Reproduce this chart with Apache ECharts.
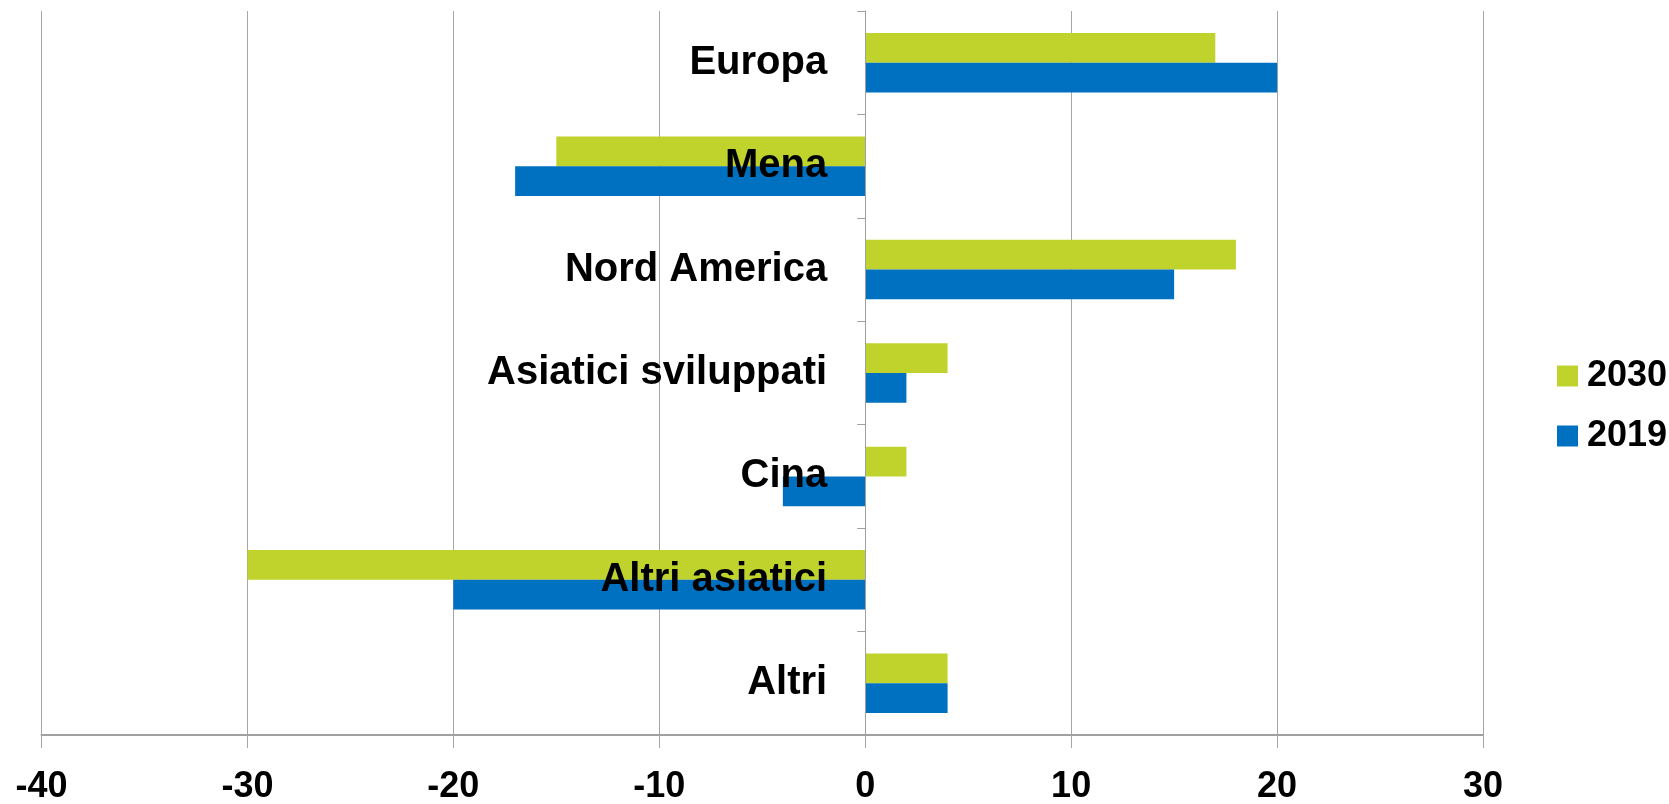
<!DOCTYPE html>
<html>
<head>
<meta charset="utf-8">
<script src="https://cdn.jsdelivr.net/npm/echarts@6/dist/echarts.min.js"></script>
<style>
html,body{margin:0;padding:0;background:#fff;}
#chart{width:1669px;height:804px;}
</style>
</head>
<body>
<div id="chart"></div>
<script>
const categories = ['Europa', 'Mena', 'Nord America', 'Asiatici sviluppati', 'Cina', 'Altri asiatici', 'Altri'];
const values2030 = [17, -15, 18, 4, 2, -30, 4];
const values2019 = [20, -17, 15, 2, -4, -20, 4];
const seriesNames = ['2030', '2019'];

const numFont = "'Liberation Sans', Arial, sans-serif";
const catFont = "'Liberation Sans', Arial, sans-serif";

const W = 1669, gridLeft = 41.5, gridRight = 186;
const xMin = -40, xMax = 30;
const zeroOffset = -(W - gridLeft - gridRight) * (0 - xMin) / (xMax - xMin);

const chart = echarts.init(document.getElementById('chart'));
chart.setOption({
  animation: false,
  grid: { left: gridLeft, right: gridRight, top: 11, bottom: 69, containLabel: false, outerBoundsMode: 'none' },
  legend: {
    orient: 'vertical',
    left: 1552,
    top: 353,
    itemWidth: 21,
    itemHeight: 21,
    itemGap: 24,
    icon: 'rect',
    data: seriesNames,
    textStyle: { fontFamily: numFont, fontWeight: 'bold', fontSize: 36, color: '#000', padding: [0, 0, 0, 4] }
  },
  xAxis: {
    type: 'value',
    min: xMin,
    max: xMax,
    interval: 10,
    axisLine: { show: true, onZero: false, lineStyle: { color: '#A0A0A0', width: 2 } },
    axisTick: { show: true, length: 13, lineStyle: { color: '#A6A6A6', width: 1 } },
    splitLine: { show: true, lineStyle: { color: '#A6A6A6', width: 1 } },
    axisLabel: { margin: 34, fontFamily: numFont, fontWeight: 'bold', fontSize: 36, color: '#000' }
  },
  yAxis: {
    type: 'category',
    inverse: true,
    data: categories,
    z: 10,
    offset: zeroOffset,
    axisLine: { show: true, onZero: false, lineStyle: { color: '#A0A0A0', width: 1 } },
    axisTick: { show: true, length: 8, lineStyle: { color: '#A0A0A0', width: 1 } },
    axisLabel: { margin: 38, fontFamily: catFont, fontWeight: 'bold', fontSize: 40, color: '#000' }
  },
  series: [
    {
      name: seriesNames[0], type: 'bar', data: values2030,
      itemStyle: { color: '#C0D22C' },
      barGap: '0%', barCategoryGap: '42.5%'
    },
    {
      name: seriesNames[1], type: 'bar', data: values2019,
      itemStyle: { color: '#0070C0' },
      barGap: '0%', barCategoryGap: '42.5%'
    }
  ]
});
</script>
</body>
</html>
